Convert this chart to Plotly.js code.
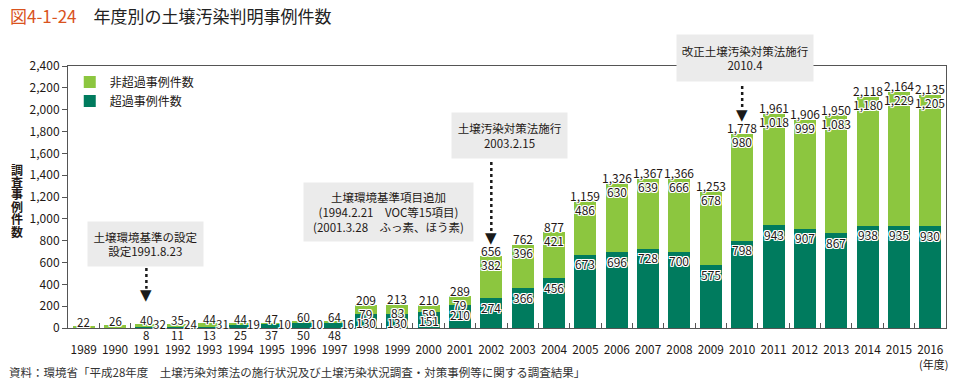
<!DOCTYPE html>
<html>
<head>
<meta charset="utf-8">
<script src="https://cdn.plot.ly/plotly-3.0.1.min.js"></script>
<style>html,body{margin:0;padding:0;background:#fff;}#chart{width:959px;height:388px;}</style>
</head>
<body>
<div id="chart"></div>
<script>
const years = ['1989','1990','1991','1992','1993','1994','1995','1996','1997','1998','1999','2000','2001','2002','2003','2004','2005','2006','2007','2008','2009','2010','2011','2012','2013','2014','2015','2016'];
const exceed = [0,0,8,11,13,25,37,50,48,130,130,151,210,274,366,456,673,696,728,700,575,798,943,907,867,938,935,930];
const nonExceed = [22,26,32,24,31,19,10,10,16,79,83,59,79,382,396,421,486,630,639,666,678,980,1018,999,1083,1180,1229,1205];
const totals = [22,26,40,35,44,44,47,60,64,209,213,210,289,656,762,877,1159,1326,1367,1366,1253,1778,1961,1906,1950,2118,2164,2135];
const seriesNames = ['超過事例件数','非超過事例件数'];
const yTicks = [0,200,400,600,800,1000,1200,1400,1600,1800,2000,2200,2400];
const yTitleChars = ['調','査','事','例','件','数'];

const FONT = '"Noto Sans CJK JP", "Noto Sans", sans-serif';
const TXT = '#231815';
const LIGHT = '#8CC63F';
const DARK = '#007B5E';
const HALO = '1px 0 0 #fff, -1px 0 0 #fff, 0 1px 0 #fff, 0 -1px 0 #fff, 1px 1px 0 #fff, -1px -1px 0 #fff, 1px -1px 0 #fff, -1px 1px 0 #fff';
const fmt = v => v.toLocaleString('en-US');
const idx = yr => years.indexOf(yr);

const traces = [
  {type:'bar', name:seriesNames[0], x:years, y:exceed, marker:{color:DARK, line:{width:0}}, hoverinfo:'skip'},
  {type:'bar', name:seriesNames[1], x:years, y:nonExceed, marker:{color:LIGHT, line:{width:0}}, hoverinfo:'skip'}
];

const ann = [];
years.forEach((yr, i) => {
  const early = i < 9;
  const fs = early ? 11.5 : 12;
  const base = {xref:'x', yref:'y', x:i, showarrow:false, xanchor:'center', yanchor:'middle', borderpad:0,
    font:{family:FONT, size:fs, color:TXT, shadow:HALO}};
  ann.push(Object.assign({}, base, {y:totals[i], text:fmt(totals[i]), yshift: early ? 4 : 6}));
  if (i < 2) return;
  if (early) {
    ann.push(Object.assign({}, base, {y:0, text:fmt(nonExceed[i]), xshift:13, yshift:4.5}));
    ann.push(Object.assign({}, base, {y:0, text:fmt(exceed[i]), yshift:-6.5}));
  } else {
    ann.push(Object.assign({}, base, {y:totals[i], text:fmt(nonExceed[i]), yshift:-8}));
    ann.push(Object.assign({}, base, {y:exceed[i], text:fmt(exceed[i]), yshift:-9}));
  }
});

const boxFont = {family:FONT, size:11.5, color:TXT};
function box(x, y, w, h, text) {
  ann.push({xref:'paper', yref:'paper', x:x, y:y, xanchor:'center', yanchor:'middle', showarrow:false,
    text:text, bgcolor:'#EBEBEB', width:w, height:h, borderpad:0, font:boxFont, align:'center'});
}
box(0.0877, 0.3206, 115, 44, '土壌環境基準の設定<br>設定1991.8.23');
box(0.3645, 0.4427, 169, 58, '土壌環境基準項目追加<br>(1994.2.21　VOC等15項目)<br>(2001.3.28　ふっ素、ほう素)');
box(0.5028, 0.7366, 115, 45, '土壌汚染対策法施行<br>2003.2.15');
box(0.7711, 1.0305, 136, 46, '改正土壌汚染対策法施行<br>2010.4');

function head(yr, yv) {
  ann.push({xref:'x', yref:'y', x:idx(yr), y:yv, showarrow:false, text:'▼', xanchor:'center', yanchor:'middle',
    font:{family:'DejaVu Sans', size:15, color:'#1a1a1a'}});
}
head('1991', 300);
head('2002', 824);
head('2010', 1951);

function dashed(yr, y0, y1) {
  return {type:'line', xref:'x', yref:'y', x0:idx(yr), x1:idx(yr), y0:y0, y1:y1, line:{color:'#1a1a1a', width:2.5, dash:'3px,3px'}};
}
const shapes = [dashed('1991', 549, 360), dashed('2002', 1520, 885), dashed('2010', 2216, 2020)];

yTitleChars.forEach((c, k) => {
  ann.push({xref:'paper', yref:'paper', x:-51/878, y:(328-169-k*12.4)/262, xanchor:'center', yanchor:'middle', showarrow:false,
    text:c, font:{family:FONT, size:12, color:TXT, weight:700}});
});
ann.push({xref:'paper', yref:'paper', x:1.004, y:-36/262, xanchor:'right', yanchor:'middle', showarrow:false,
  text:'(年度)', font:{family:FONT, size:11, color:TXT}});
ann.push({xref:'paper', yref:'paper', x:-61/878, y:-44/262, xanchor:'left', yanchor:'middle', showarrow:false,
  text:'資料：環境省「平成28年度　土壌汚染対策法の施行状況及び土壌汚染状況調査・対策事例等に関する調査結果」',
  font:{family:FONT, size:11.5, color:'#333'}});

const layout = {
  width:959, height:388,
  margin:{l:68, r:13, t:66, b:60},
  paper_bgcolor:'#fff', plot_bgcolor:'#fff',
  barmode:'stack', bargap:0.3,
  title:{text:'<span style="color:#D9531E">図4-1-24</span>　年度別の土壌汚染判明事例件数',
    x:10/959, xanchor:'left', xref:'container', y:1-17/388, yanchor:'middle', yref:'container',
    font:{family:FONT, size:17, color:'#222'}},
  font:{family:FONT, color:TXT},
  showlegend:true,
  legend:{x:0.002, y:0.994, xanchor:'left', yanchor:'top', bgcolor:'rgba(0,0,0,0)',
    font:{family:FONT, size:12, color:TXT}, traceorder:'reversed', itemclick:false},
  xaxis:{type:'category', range:[-0.5, years.length-0.5], showline:true, linecolor:'#555', linewidth:1, mirror:true,
    ticks:'inside', tickson:'boundaries', ticklen:5, tickcolor:'#555', tickangle:0,
    tickfont:{family:FONT, size:11.8, color:TXT}, ticklabelstandoff:11, showgrid:false, zeroline:false, fixedrange:true},
  yaxis:{range:[0,2400], tickvals:yTicks, tickformat:',d', showline:true, linecolor:'#555', linewidth:1, mirror:true,
    ticks:'outside', ticklen:5, tickcolor:'#555', tickfont:{family:FONT, size:12, color:TXT},
    showgrid:false, zeroline:false, fixedrange:true},
  annotations:ann,
  shapes:shapes
};

Plotly.newPlot('chart', traces, layout, {displayModeBar:false, staticPlot:true});
</script>
</body>
</html>
